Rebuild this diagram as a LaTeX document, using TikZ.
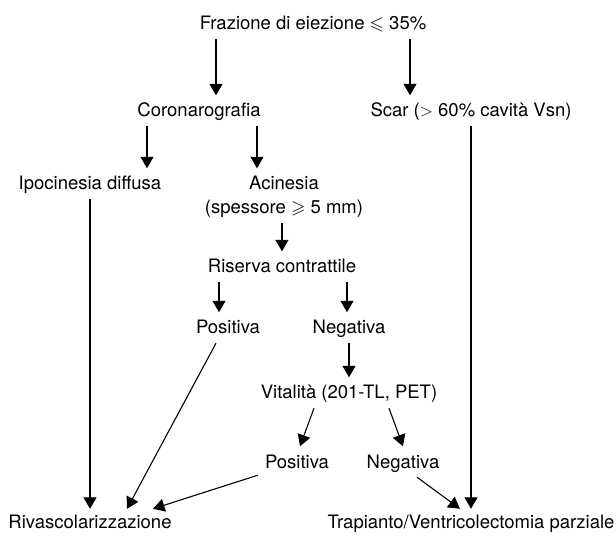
\documentclass[tikz,border=0pt]{standalone}
\usepackage{amssymb}
\DeclareFontFamily{U}{msa}{}
\DeclareFontShape{U}{msa}{m}{n}{<-> msam10}{}
\usepackage{fontspec}
\setmainfont{TeX Gyre Heros}
\usetikzlibrary{arrows.meta}
\tikzset{lbl/.style={font=\fontsize{18.5}{24}\selectfont, inner xsep=0pt, inner ysep=5pt,
    text height=16.5pt, text depth=4pt, anchor=base},
    flow/.style={-{Triangle[width=13pt,length=11.5pt]}, line width=1.1pt}}

\begin{document}
\begin{tikzpicture}[x=1pt,y=-1pt]
    \fill[white] (0,0) rectangle (616,534);
    \node[lbl] (frazione) at (313,30) {Frazione di eiezione $\leqslant$ 35\%};
    \node[lbl] (corona) at (199,117) {Coronarografia};
    \node[lbl] (scar) at (471,117) {Scar ($>$ 60\% cavità Vsn)};
    \node[lbl] (ipo) at (90,190) {Ipocinesia diffusa};
    \node[lbl, align=center, text height=40.5pt] (acin) at (284,214) {Acinesia\\(spessore $\geqslant$ 5 mm)};
    \node[lbl] (riserva) at (282,273) {Riserva contrattile};
    \node[lbl] (pos1) at (228,334) {Positiva};
    \node[lbl] (neg1) at (349,334) {Negativa};
    \node[lbl] (vital) at (349,399) {Vitalità (201-TL, PET)};
    \node[lbl] (pos2) at (297,468) {Positiva};
    \node[lbl] (neg2) at (403,468) {Negativa};
    \node[lbl, text height=14pt] (rivasc) at (90,528) {Rivascolarizzazione};
    \node[lbl, text height=14pt] (trap) at (471,528) {Trapianto/Ventricolectomia parziale};

    \draw[flow] ([xshift=-97pt]frazione.south) -- ([xshift=17pt]corona.north);
    \draw[flow] ([xshift=97pt]frazione.south) -- ([xshift=-61pt]scar.north);
    \draw[flow] ([xshift=-52pt]corona.south) -- ([xshift=57pt]ipo.north);
    \draw[flow] ([xshift=58pt]corona.south) -- ([xshift=-27pt]acin.north);
    \draw[flow] (scar.south) -- (trap.north);
    \draw[flow] (ipo.south) -- (rivasc.north);
    \draw[flow] (acin.south -| riserva) -- (riserva.north);
    \draw[flow] ([xshift=-63pt]riserva.south) -- ([xshift=-9pt]pos1.north);
    \draw[flow] ([xshift=65pt]riserva.south) -- ([xshift=-2pt]neg1.north);
    \draw[flow] ([xshift=-12pt]pos1.south) -- ([xshift=37pt]rivasc.north);
    \draw[flow] (neg1.south) -- (vital.north);
    \draw[flow] ([xshift=-35pt]vital.south) -- ([xshift=3pt]pos2.north);
    \draw[flow] ([xshift=40pt]vital.south) -- (neg2.north);
    \draw[flow] ([xshift=-7pt,yshift=2pt]pos2.south west) -- ([xshift=63pt]rivasc.north);
    \draw[flow] ([xshift=14pt]neg2.south) -- ([xshift=-11pt]trap.north);
\end{tikzpicture}
\end{document}
